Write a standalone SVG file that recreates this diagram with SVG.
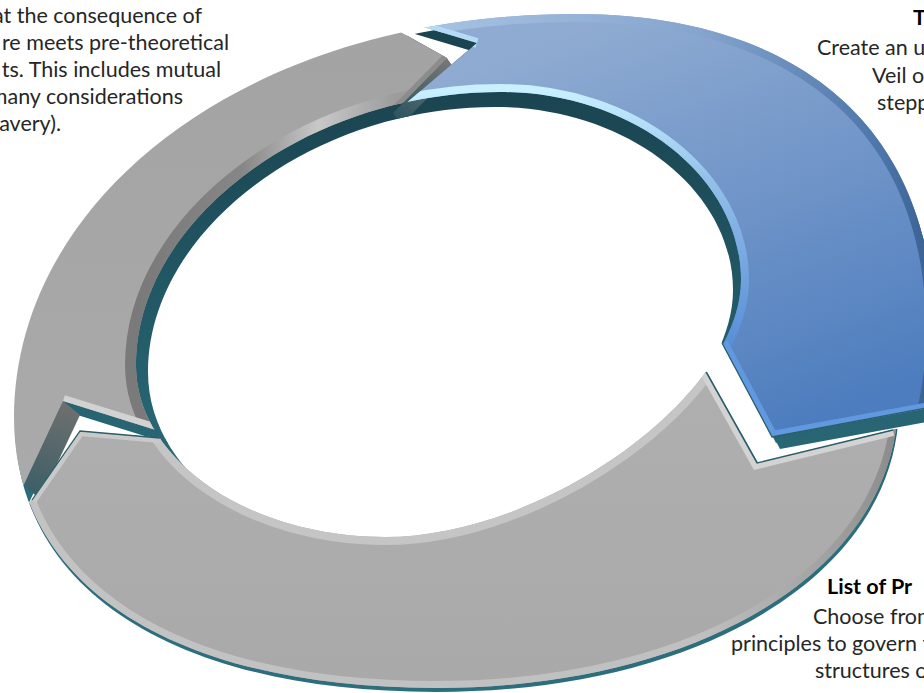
<svg xmlns="http://www.w3.org/2000/svg" width="924" height="693" viewBox="0 0 924 693">
<defs>
<style>
.body{font-family:Lato,"Open Sans","Liberation Sans",sans-serif;font-size:21.5px;fill:#262626}
.title{font-family:Lato,"Open Sans","Liberation Sans",sans-serif;font-size:21.5px;font-weight:bold;fill:#000}
.wall{fill:url(#gWall)}
.nf{fill:none}
.edge{fill:none;stroke:#2b5d68;stroke-width:1.3}
</style>
<path id="oB" d="M14,418 C14,195.8 249.6,14 575,14 C801.2,14 934,130.9 934,330 C934,560 736,688 435,688 C174,688 14,585.4 14,418 Z"/>
<path id="oG" d="M14,418 C14,195.8 249.6,14 575,14 C770,14 898,250 898,400 C898,567 703.5,688 435,688 C174,688 14,585.4 14,418 Z"/>
<path id="iF" d="M136,365 C136,220.3 307.1,92 500,92 C632.6,92 741,176.6 741,280 C741,395.7 545.2,537 385,537 C248,537 136,459.6 136,365 Z"/>
<polygon id="pB" points="440,320 404,105 477,43 417,25 397,19 400,-40 1000,-40 1000,395 772,437 722,343 714,328"/>
<polygon id="pL" points="440,320 175,436 63,401 12,510 -60,510 -60,-40 370,-40 379,20 447,58 383,123"/>
<polygon id="pG" points="440,320 698,358 757,463 950,416 1000,416 1000,760 -60,760 -60,524 15,524 80,431 175,439"/>
<clipPath id="cB"><use href="#pB"/></clipPath>
<clipPath id="cL"><use href="#pL"/></clipPath>
<clipPath id="cG"><use href="#pG"/></clipPath>
<clipPath id="cBw"><use href="#pB"/><use href="#pB" transform="translate(4,6)"/><use href="#pB" transform="translate(8,12)"/></clipPath>
<clipPath id="cLw"><use href="#pL"/><use href="#pL" transform="translate(4,6)"/><use href="#pL" transform="translate(8,12)"/></clipPath>
<clipPath id="cGw"><use href="#pG"/><use href="#pG" transform="translate(4,6)"/><use href="#pG" transform="translate(8,12)"/></clipPath>
<clipPath id="rB"><path clip-rule="evenodd" d="M14,418 C14,195.8 249.6,14 575,14 C801.2,14 934,130.9 934,330 C934,560 736,688 435,688 C174,688 14,585.4 14,418 Z M136,365 C136,220.3 307.1,92 500,92 C632.6,92 741,176.6 741,280 C741,395.7 545.2,537 385,537 C248,537 136,459.6 136,365 Z"/></clipPath>
<clipPath id="rG"><path clip-rule="evenodd" d="M14,418 C14,195.8 249.6,14 575,14 C770,14 898,250 898,400 C898,567 703.5,688 435,688 C174,688 14,585.4 14,418 Z M136,365 C136,220.3 307.1,92 500,92 C632.6,92 741,176.6 741,280 C741,395.7 545.2,537 385,537 C248,537 136,459.6 136,365 Z"/></clipPath>
<clipPath id="wG"><path clip-rule="evenodd" d="M15,422 C15,199.8 250.6,18 576,18 C771,18 899,254 899,404 C899,571 704.5,692 436,692 C175,692 15,589.4 15,422 Z M148,372 C148,231.5 311.1,107 495,107 C625.9,107 733,189.4 733,290 C733,407.9 544.4,552 390,552 C256.9,552 148,471 148,372 Z"/></clipPath>
<linearGradient id="gWall" gradientUnits="userSpaceOnUse" x1="0" y1="90" x2="0" y2="520"><stop offset="0" stop-color="#1a4450"/><stop offset="1" stop-color="#2c6e7d"/></linearGradient>
<linearGradient id="gBlue" gradientUnits="userSpaceOnUse" x1="600" y1="20" x2="760" y2="440"><stop offset="0" stop-color="#8fabd1"/><stop offset=".5" stop-color="#6f94c8"/><stop offset="1" stop-color="#4d7dbe"/></linearGradient>
<linearGradient id="gGrayL" gradientUnits="userSpaceOnUse" x1="0" y1="30" x2="0" y2="480"><stop offset="0" stop-color="#a3a3a3"/><stop offset="1" stop-color="#aaaaaa"/></linearGradient>
<linearGradient id="gGrayB" gradientUnits="userSpaceOnUse" x1="0" y1="380" x2="0" y2="690"><stop offset="0" stop-color="#afafaf"/><stop offset="1" stop-color="#a9a9a9"/></linearGradient>
<linearGradient id="gBO" gradientUnits="userSpaceOnUse" x1="420" y1="0" x2="935" y2="0"><stop offset="0" stop-color="#a8c3e3"/><stop offset=".54" stop-color="#86a5ce"/><stop offset=".89" stop-color="#4d76aa"/><stop offset="1" stop-color="#395f90"/></linearGradient>
<linearGradient id="gBI" gradientUnits="userSpaceOnUse" x1="0" y1="90" x2="0" y2="340"><stop offset="0" stop-color="#c8f0ff"/><stop offset=".36" stop-color="#92c0ea"/><stop offset="1" stop-color="#5b8fd7"/></linearGradient>
<linearGradient id="gLI" gradientUnits="userSpaceOnUse" x1="140" y1="0" x2="395" y2="0"><stop offset="0" stop-color="#7a7a7a"/><stop offset=".4" stop-color="#868686"/><stop offset=".7" stop-color="#c8c8c8"/><stop offset="1" stop-color="#9c9c9c"/></linearGradient>
<linearGradient id="gGO" gradientUnits="userSpaceOnUse" x1="30" y1="0" x2="900" y2="0"><stop offset="0" stop-color="#c3c3c3"/><stop offset=".77" stop-color="#c0c0c0"/><stop offset=".92" stop-color="#a0a0a0"/><stop offset="1" stop-color="#8a8a8a"/></linearGradient>
<linearGradient id="gEF1" gradientUnits="userSpaceOnUse" x1="447" y1="58" x2="397" y2="118"><stop offset="0" stop-color="#777777"/><stop offset="1" stop-color="#2d5560"/></linearGradient>
<linearGradient id="gEF2" gradientUnits="userSpaceOnUse" x1="63" y1="401" x2="28" y2="490"><stop offset="0" stop-color="#6f6f6f"/><stop offset="1" stop-color="#3d5f67"/></linearGradient>
</defs>
<rect width="924" height="693" fill="#ffffff"/>
<g id="cycle">
<g id="walls">
<path class="wall" fill-rule="evenodd" clip-path="url(#cBw)" d="M15,422 C15,199.8 250.6,18 576,18 C802.2,18 935,134.9 935,334 C935,564 737,692 436,692 C175,692 15,589.4 15,422 Z M148,372 C148,231.5 311.1,107 495,107 C625.9,107 733,189.4 733,290 C733,407.9 544.4,552 390,552 C256.9,552 148,471 148,372 Z"/>
<path class="wall" fill-rule="evenodd" clip-path="url(#cLw)" d="M15,422 C15,199.8 250.6,18 576,18 C771,18 899,254 899,404 C899,571 704.5,692 436,692 C175,692 15,589.4 15,422 Z M148,372 C148,231.5 311.1,107 495,107 C625.9,107 733,189.4 733,290 C733,407.9 544.4,552 390,552 C256.9,552 148,471 148,372 Z"/>
<path class="wall" fill-rule="evenodd" clip-path="url(#cGw)" d="M15,422 C15,199.8 250.6,18 576,18 C771,18 899,254 899,404 C899,571 704.5,692 436,692 C175,692 15,589.4 15,422 Z M148,372 C148,231.5 311.1,107 495,107 C625.9,107 733,189.4 733,290 C733,407.9 544.4,552 390,552 C256.9,552 148,471 148,372 Z"/>
<g clip-path="url(#wG)">
<polygon points="447,58 455,70 401,125 393,113" fill="url(#gEF1)"/>
<polygon points="63,401 80,415 40,500 24,484" fill="url(#gEF2)"/>
</g>
</g>
<g id="seg-blue" clip-path="url(#cB)">
<path fill="url(#gBlue)" fill-rule="evenodd" d="M14,418 C14,195.8 249.6,14 575,14 C801.2,14 934,130.9 934,330 C934,560 736,688 435,688 C174,688 14,585.4 14,418 Z M136,365 C136,220.3 307.1,92 500,92 C632.6,92 741,176.6 741,280 C741,395.7 545.2,537 385,537 C248,537 136,459.6 136,365 Z"/>
<g clip-path="url(#rB)">
<use href="#oB" class="nf" stroke="url(#gBO)" stroke-width="16"/>
<use href="#iF" class="nf" stroke="url(#gBI)" stroke-width="16"/>
<polyline class="nf" points="722,343 772,437 935,407" stroke="#6199e0" stroke-width="12"/>
<polyline class="nf" points="417,25 477,43" stroke="#b5daf4" stroke-width="10"/>
</g>
</g>
<g id="seg-gray-left" clip-path="url(#cL)">
<path fill="url(#gGrayL)" fill-rule="evenodd" d="M14,418 C14,195.8 249.6,14 575,14 C770,14 898,250 898,400 C898,567 703.5,688 435,688 C174,688 14,585.4 14,418 Z M136,365 C136,220.3 307.1,92 500,92 C632.6,92 741,176.6 741,280 C741,395.7 545.2,537 385,537 C248,537 136,459.6 136,365 Z"/>
<g clip-path="url(#rG)">
<use href="#iF" class="nf" stroke="url(#gLI)" stroke-width="22"/>
<polyline class="nf" points="447,58 393,113" stroke="#8c8c8c" stroke-width="10"/>
<polyline class="nf" points="63,401 160,431" stroke="#d2d2d2" stroke-width="12"/>
</g>
</g>
<g id="seg-gray-bottom" clip-path="url(#cG)">
<path fill="url(#gGrayB)" fill-rule="evenodd" d="M14,418 C14,195.8 249.6,14 575,14 C770,14 898,250 898,400 C898,567 703.5,688 435,688 C174,688 14,585.4 14,418 Z M136,365 C136,220.3 307.1,92 500,92 C632.6,92 741,176.6 741,280 C741,395.7 545.2,537 385,537 C248,537 136,459.6 136,365 Z"/>
<g clip-path="url(#rG)">
<use href="#oG" class="nf" stroke="url(#gGO)" stroke-width="14"/>
<use href="#iF" class="nf" stroke="#c5c5c5" stroke-width="16"/>
<polyline class="nf" points="706,372 757,463 893,430" stroke="#d3d3d3" stroke-width="12"/>
<polyline class="nf" points="32,500 80,431 160,438" stroke="#c9c9c9" stroke-width="10"/>
</g>
</g>
<g id="edges">
<polyline class="edge" points="706,372 757,463 893,430"/>
<polyline class="edge" points="32,500 80,431 160,438"/>
<polyline class="edge" points="722,343 772,437 926,408"/>
</g>
</g>
<g id="label-left">
<text class="body" x="202" y="23" text-anchor="end">at the consequence of</text>
<text class="body" x="229" y="50" text-anchor="end">re meets pre-theoretical</text>
<text class="body" x="221" y="77" text-anchor="end">ts. This includes mutual</text>
<text class="body" x="183" y="104" text-anchor="end">many considerations</text>
<text class="body" x="61" y="131" text-anchor="end">avery).</text>
</g>
<g id="label-top-right">
<text class="title" x="913" y="25">T</text>
<text class="body" x="817" y="55">Create an u</text>
<text class="body" x="872" y="83">Veil o</text>
<text class="body" x="877" y="110">stepp</text>
</g>
<g id="label-bottom-right">
<text class="title" x="827" y="594">List of Pr</text>
<text class="body" x="813" y="624">Choose from</text>
<text class="body" x="731" y="651">principles to govern t</text>
<text class="body" x="815" y="678">structures o</text>
</g>
</svg>
